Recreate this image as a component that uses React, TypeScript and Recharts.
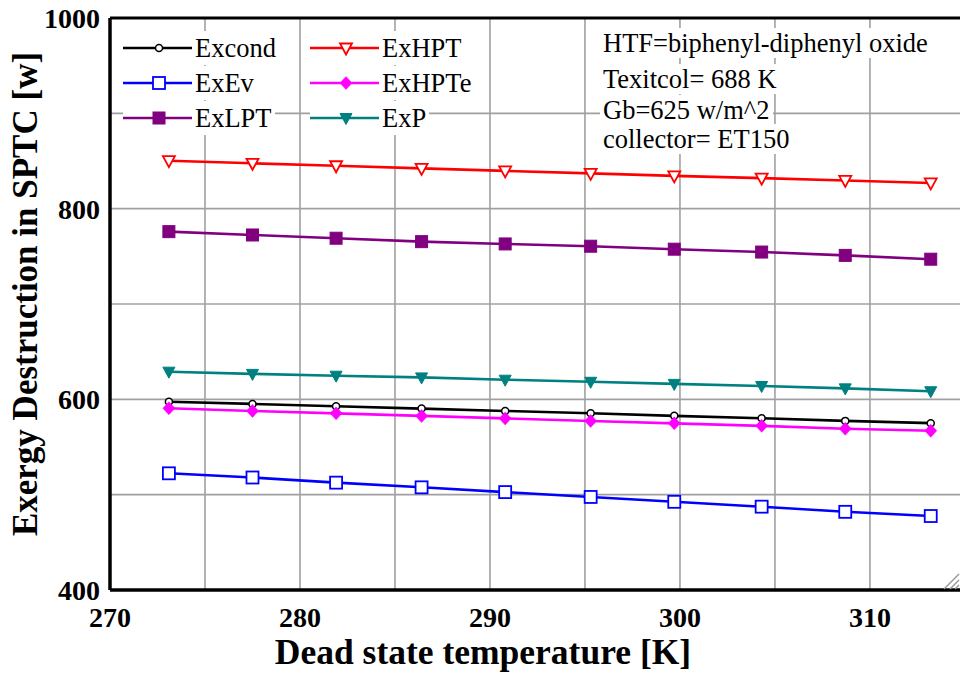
import React from 'react';
import { LineChart, Line, XAxis, YAxis, ReferenceLine } from 'recharts';

const temps = [273.1, 277.5, 281.9, 286.4, 290.8, 295.3, 299.7, 304.3, 308.7, 313.2];
const exCond = [597.5, 595.2, 592.8, 590.3, 587.8, 585.4, 582.7, 580.2, 577.4, 575.0];
const exEv = [522.4, 518.0, 512.6, 507.7, 502.7, 497.6, 492.5, 487.4, 482.0, 477.6];
const exLPT = [775.9, 772.4, 769.0, 765.4, 763.0, 760.6, 757.5, 754.5, 751.0, 747.0];
const exHPT = [850.3, 847.6, 845.0, 842.3, 839.6, 837.0, 834.4, 832.0, 829.6, 827.0];
const exHPTe = [590.6, 587.8, 585.3, 582.6, 580.0, 577.3, 574.8, 572.2, 569.2, 567.0];
const exP = [629.0, 626.7, 624.8, 623.0, 620.6, 618.4, 616.2, 614.0, 611.5, 608.5];

const xTicks = [270, 280, 290, 300, 310];
const yTicks = [400, 600, 800, 1000];
const gridX = [275, 280, 285, 290, 295, 300, 305, 310];
const gridY = [500, 600, 700, 800, 900];

const annotations = [
  'HTF=biphenyl-diphenyl oxide',
  'Texitcol= 688 K',
  'Gb=625 w/m^2',
  'collector= ET150',
];

type Kind = 'circle' | 'openSquare' | 'square' | 'openTri' | 'diamond' | 'tri';

const series: { key: string; name: string; color: string; kind: Kind; values: number[] }[] = [
  { key: 'exCond', name: 'Excond', color: '#000000', kind: 'circle', values: exCond },
  { key: 'exEv', name: 'ExEv', color: '#0000ff', kind: 'openSquare', values: exEv },
  { key: 'exLPT', name: 'ExLPT', color: '#800080', kind: 'square', values: exLPT },
  { key: 'exHPT', name: 'ExHPT', color: '#ff0000', kind: 'openTri', values: exHPT },
  { key: 'exHPTe', name: 'ExHPTe', color: '#ff00ff', kind: 'diamond', values: exHPTe },
  { key: 'exP', name: 'ExP', color: '#008080', kind: 'tri', values: exP },
];

const data = temps.map((t, i) => {
  const row: Record<string, number> = { t };
  series.forEach((s) => {
    row[s.key] = s.values[i];
  });
  return row;
});

const FONT = '"Liberation Serif", "Times New Roman", serif';

function Marker({ cx, cy, kind, color }: { cx: number; cy: number; kind: Kind; color: string }) {
  if (cx == null || cy == null) return null;
  switch (kind) {
    case 'circle':
      return <circle cx={cx} cy={cy} r={3.5} fill="#fff" stroke={color} strokeWidth={1.5} />;
    case 'openSquare':
      return <rect x={cx - 6} y={cy - 6} width={12} height={12} fill="#fff" stroke={color} strokeWidth={1.8} />;
    case 'square':
      return <rect x={cx - 6} y={cy - 6} width={12} height={12} fill={color} stroke={color} strokeWidth={1} />;
    case 'openTri':
      return (
        <polygon
          points={`${cx - 6},${cy - 4.5} ${cx + 6},${cy - 4.5} ${cx},${cy + 6.5}`}
          fill="#fff"
          stroke={color}
          strokeWidth={1.8}
        />
      );
    case 'diamond':
      return (
        <polygon
          points={`${cx},${cy - 6.5} ${cx + 6},${cy} ${cx},${cy + 6.5} ${cx - 6},${cy}`}
          fill={color}
          stroke={color}
          strokeWidth={0.5}
        />
      );
    case 'tri':
      return (
        <polygon
          points={`${cx - 6},${cy - 4.5} ${cx + 6},${cy - 4.5} ${cx},${cy + 6.5}`}
          fill={color}
          stroke={color}
          strokeWidth={1}
        />
      );
  }
  return null;
}

function LegendItem({ left, top, s }: { left: number; top: number; s: (typeof series)[number] }) {
  return (
    <div
      style={{
        position: 'absolute',
        left,
        top,
        height: 34,
        display: 'flex',
        alignItems: 'center',
        background: '#fff',
        paddingRight: 3,
      }}
    >
      <svg width={70} height={34} style={{ display: 'block' }}>
        <line x1={0} y1={17} x2={69} y2={17} stroke={s.color} strokeWidth={2.6} />
        <Marker cx={36} cy={17} kind={s.kind} color={s.color} />
      </svg>
      <span style={{ fontFamily: FONT, fontSize: 26.5, lineHeight: '34px', marginLeft: 2, color: '#000', whiteSpace: 'nowrap' }}>
        {s.name}
      </span>
    </div>
  );
}

export default function App() {
  const legendPos = [
    { left: 123, top: 31 },
    { left: 123, top: 66 },
    { left: 123, top: 101 },
    { left: 310, top: 31 },
    { left: 310, top: 66 },
    { left: 310, top: 101 },
  ];
  const annTops = [28, 64, 95, 124];
  return (
    <div
      style={{
        position: 'absolute',
        left: 0,
        top: 0,
        width: 960,
        height: 674,
        background: '#fff',
        overflow: 'hidden',
        fontFamily: FONT,
      }}
    >
      <LineChart width={960} height={674} data={data} margin={{ top: 18, right: 0, bottom: 0, left: 10 }}>
        {gridX.map((v) => (
          <ReferenceLine key={'gx' + v} x={v} stroke="#a0a0a0" strokeWidth={1.6} />
        ))}
        {gridY.map((v) => (
          <ReferenceLine key={'gy' + v} y={v} stroke="#a0a0a0" strokeWidth={1.6} />
        ))}
        <ReferenceLine y={1000} stroke="#000" strokeWidth={3} />
        <XAxis
          dataKey="t"
          type="number"
          domain={[270, 314.74]}
          ticks={xTicks}
          allowDataOverflow
          height={84}
          tickLine={false}
          tickSize={12}
          tickMargin={5}
          axisLine={{ stroke: '#000', strokeWidth: 3.5 }}
          tick={{ fontSize: 28, fontWeight: 'bold', fill: '#000', fontFamily: FONT }}
        />
        <YAxis
          type="number"
          domain={[400, 1000]}
          ticks={yTicks}
          allowDataOverflow
          width={100}
          tickLine={false}
          tickSize={6}
          tickMargin={4}
          axisLine={{ stroke: '#000', strokeWidth: 3.5 }}
          tick={{ fontSize: 28, fontWeight: 'bold', fill: '#000', fontFamily: FONT }}
        />
        {series.map((s) => (
          <Line
            key={s.key}
            type="linear"
            dataKey={s.key}
            name={s.name}
            stroke={s.color}
            strokeWidth={2.6}
            isAnimationActive={false}
            activeDot={false}
            dot={(p: any) => <Marker key={s.key + p.index} cx={p.cx} cy={p.cy} kind={s.kind} color={s.color} />}
          />
        ))}
      </LineChart>

      {series.map((s, i) => (
        <LegendItem key={'lg' + s.key} left={legendPos[i].left} top={legendPos[i].top} s={s} />
      ))}

      {annotations.map((a, i) => (
        <div
          key={'an' + i}
          style={{
            position: 'absolute',
            left: 600,
            top: annTops[i],
            height: 30,
            lineHeight: '30px',
            fontSize: 26.5,
            fontFamily: FONT,
            background: '#fff',
            padding: '0 3px',
            whiteSpace: 'nowrap',
            color: '#000',
          }}
        >
          {a}
        </div>
      ))}

      <div
        style={{
          position: 'absolute',
          left: 25,
          top: 294,
          transform: 'translate(-50%, -50%) rotate(-90deg)',
          fontSize: 35,
          fontWeight: 'bold',
          lineHeight: 1,
          whiteSpace: 'nowrap',
          color: '#000',
        }}
      >
        Exergy Destruction in SPTC [w]
      </div>
      <div
        style={{
          position: 'absolute',
          left: 483,
          top: 639,
          height: 27,
          transform: 'translateX(-50%)',
          fontSize: 35.5,
          fontWeight: 'bold',
          lineHeight: 0.75,
          whiteSpace: 'nowrap',
          color: '#000',
        }}
      >
        Dead state temperature [K]
      </div>

      <svg width={20} height={18} style={{ position: 'absolute', left: 940, top: 572 }}>
        <line x1={4} y1={17} x2={19} y2={2} stroke="#999" strokeWidth={1.5} />
        <line x1={10} y1={17} x2={19} y2={8} stroke="#999" strokeWidth={1.5} />
        <line x1={15} y1={17} x2={19} y2={13} stroke="#999" strokeWidth={1.5} />
      </svg>
    </div>
  );
}
